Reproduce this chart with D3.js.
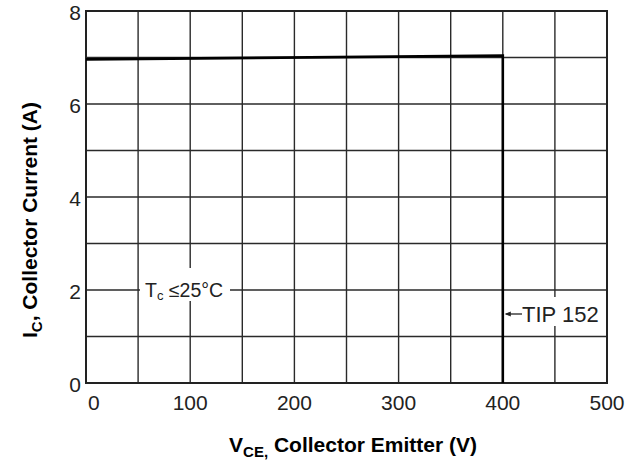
<!DOCTYPE html>
<html>
<head>
<meta charset="utf-8">
<script src="https://cdn.jsdelivr.net/npm/d3@7"></script>
<style>
  body { margin: 0; background: #fff; }
  text { font-family: Arial, "Liberation Sans", sans-serif; }
</style>
</head>
<body>
<div id="chart"></div>
<script>
// safe operating area
const vce = [0, 400, 400];
const ic = [6.96, 7.04, 0];

const xTicks = [0, 100, 200, 300, 400, 500];
const yTicks = [0, 2, 4, 6, 8];
const xGrid = [50, 100, 150, 200, 250, 300, 350, 400, 450];
const yGrid = [1, 2, 3, 4, 5, 6, 7];

const width = 629;
const height = 460;
const plot = { left: 86, right: 607, top: 11, bottom: 383 };

const svg = d3.select('#chart')
  .append('svg')
  .attr('width', width)
  .attr('height', height);

const x = d3.scaleLinear().domain([0, 500]).range([plot.left, plot.right]);
const y = d3.scaleLinear().domain([0, 8]).range([plot.bottom, plot.top]);

// grid
const grid = svg.append('g').attr('stroke', '#2a2a2a').attr('stroke-width', 1.4);
grid.selectAll('.vg')
  .data(xGrid)
  .join('line')
  .attr('x1', d => x(d)).attr('x2', d => x(d))
  .attr('y1', y(8)).attr('y2', y(0));
grid.selectAll('.hg')
  .data(yGrid)
  .join('line')
  .attr('x1', x(0)).attr('x2', x(500))
  .attr('y1', d => y(d)).attr('y2', d => y(d));

// frame
svg.append('rect')
  .attr('x', x(0)).attr('y', y(8))
  .attr('width', x(500) - x(0)).attr('height', y(0) - y(8))
  .attr('fill', 'none')
  .attr('stroke', '#222')
  .attr('stroke-width', 2);

// SOA curve
const line = d3.line().x(d => x(d[0])).y(d => y(d[1]));
svg.append('path')
  .datum(d3.zip(vce, ic))
  .attr('d', line)
  .attr('fill', 'none')
  .attr('stroke', '#000')
  .attr('stroke-width', 2.6);

// tick labels
svg.append('g')
  .selectAll('text')
  .data(xTicks)
  .join('text')
  .attr('x', d => d === 0 ? x(d) + 2 : x(d))
  .attr('y', 410)
  .attr('text-anchor', d => d === 0 ? 'start' : 'middle')
  .attr('font-size', 21)
  .attr('fill', '#222')
  .text(d => d);

svg.append('g')
  .selectAll('text')
  .data(yTicks)
  .join('text')
  .attr('x', 81)
  .attr('y', d => y(d) + 9)
  .attr('text-anchor', 'end')
  .attr('font-size', 21)
  .attr('fill', '#222')
  .text(d => d);

// annotation: Tc
svg.append('rect')
  .attr('x', 140).attr('y', 268).attr('width', 90).attr('height', 33)
  .attr('fill', '#fff');
const tc = svg.append('text')
  .attr('x', 145).attr('y', y(2) + 7)
  .attr('font-size', 19.5)
  .attr('fill', '#222');
tc.append('tspan').text('T');
tc.append('tspan').attr('font-size', 13).attr('dy', 3).text('c');
tc.append('tspan').attr('dy', -3).text(' \u226425\u00b0C');

// annotation: TIP 152
svg.append('rect')
  .attr('x', 521).attr('y', 297).attr('width', 84).attr('height', 29)
  .attr('fill', '#fff');
svg.append('line')
  .attr('x1', x(400) + 3).attr('x2', 522)
  .attr('y1', 314).attr('y2', 314)
  .attr('stroke', '#222').attr('stroke-width', 1.3);
svg.append('path')
  .attr('d', `M${x(400) + 2},314 l6,-2.5 l0,5 z`)
  .attr('fill', '#222');
svg.append('text')
  .attr('x', 522).attr('y', 322)
  .attr('font-size', 22)
  .attr('fill', '#222')
  .text('TIP 152');

// axis titles
const xt = svg.append('text')
  .attr('x', 353).attr('y', 452)
  .attr('text-anchor', 'middle')
  .attr('font-size', 21)
  .attr('font-weight', 'bold');
xt.append('tspan').text('V');
xt.append('tspan').attr('font-size', 15).attr('dy', 5).text('CE,');
xt.append('tspan').attr('dy', -5).text(' Collector Emitter (V)');

const yt = svg.append('text')
  .attr('transform', 'translate(37,220) rotate(-90)')
  .attr('text-anchor', 'middle')
  .attr('font-size', 21)
  .attr('font-weight', 'bold');
yt.append('tspan').text('I');
yt.append('tspan').attr('font-size', 15).attr('dy', 5).text('C');
yt.append('tspan').attr('dy', -5).text(', Collector Current (A)');
</script>
</body>
</html>
